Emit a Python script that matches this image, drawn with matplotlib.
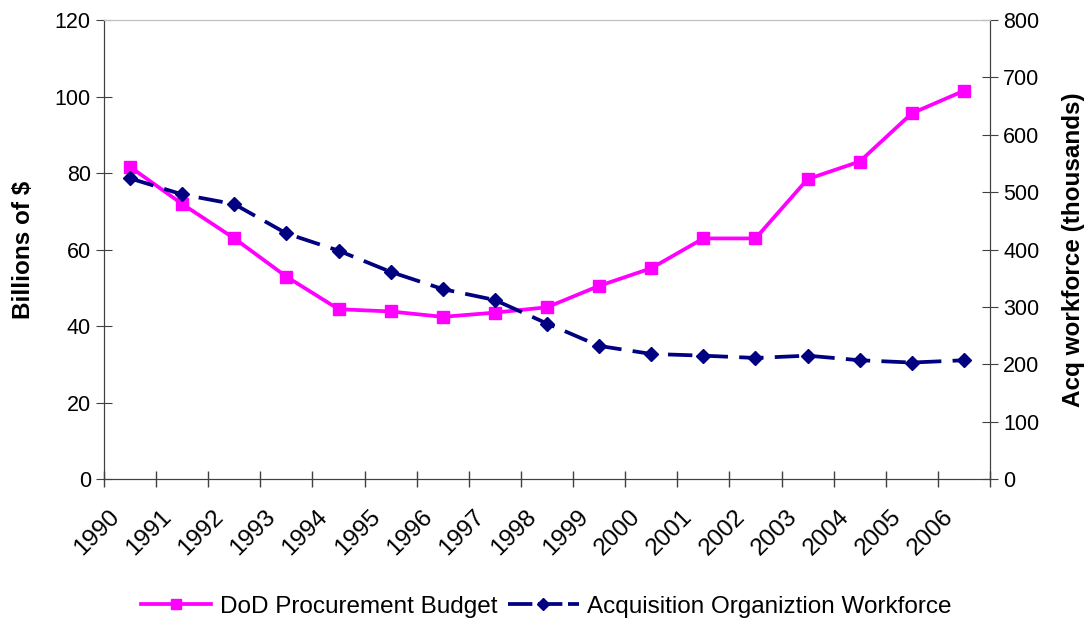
import numpy as np
import matplotlib
matplotlib.use("Agg")
import matplotlib.pyplot as plt
from matplotlib.lines import Line2D
from matplotlib.transforms import ScaledTranslation

plt.rcParams['font.family'] = ['Liberation Sans', 'DejaVu Sans']

# data
years = [str(y) for y in range(1990, 2007)]
budget = [81.6, 71.9, 62.9, 52.9, 44.4, 43.8, 42.4, 43.5, 44.9, 50.5,
          55.1, 62.9, 62.9, 78.4, 83.0, 95.6, 101.5]
workforce = [524, 496, 479, 428, 398, 361, 331, 312, 271, 232,
             218, 215, 211, 215, 207, 203, 207]

pink = '#FF00FF'
navy = '#000080'
axcol = '#404040'

fig = plt.figure(figsize=(10.86, 6.23), dpi=100)
ax = fig.add_axes([0.0958, 0.2311, 0.8158, 0.7368])
ax2 = ax.twinx()

x = np.arange(len(years)) + 0.5
ax.plot(x, budget, color=pink, lw=2.7, marker='s', ms=8, zorder=3)
ax2.plot(x, workforce, color=navy, lw=2.7, marker='D', ms=7.5,
         dashes=(6.5, 3), zorder=3)

ax.set_xlim(0, len(years))
ax.set_ylim(0, 120)
ax2.set_ylim(0, 800)
ax.set_yticks(np.arange(0, 121, 20))
ax2.set_yticks(np.arange(0, 801, 100))

# category boundaries get the tick marks, centres get the labels
ax.set_xticks(np.arange(0, len(years) + 1))
ax.set_xticklabels([])
ax.set_xticks(x, minor=True)
ax.set_xticklabels(years, minor=True, rotation=45, ha='right', va='center',
                   rotation_mode='anchor', fontsize=17.5)
ax.tick_params(axis='x', which='minor', length=0, pad=25)
for lab in ax.get_xticklabels(minor=True):
    lab.set_transform(lab.get_transform() +
                      ScaledTranslation(-0.14, 0, fig.dpi_scale_trans))
ax.tick_params(axis='x', which='major', direction='inout', length=11,
               color=axcol, width=1)
ax.tick_params(axis='y', direction='inout', length=11, color=axcol,
               labelsize=15.5, pad=4)
ax2.tick_params(axis='y', direction='inout', length=11, color=axcol,
                labelsize=15.5, pad=4)

for a in (ax, ax2):
    a.spines['top'].set_color('#C0C0C0')
    a.spines['left'].set_color(axcol)
    a.spines['bottom'].set_color(axcol)
    a.spines['right'].set_color(axcol)

ax.set_ylabel('Billions of $', fontsize=17.5, fontweight='bold', labelpad=14)
ax2.set_ylabel('Acq workforce (thousands)', fontsize=17.5, fontweight='bold',
               labelpad=16)

handles = [
    Line2D([], [], color=pink, lw=2.7, marker='s', ms=7),
    Line2D([], [], color=navy, lw=2.7, marker='D', ms=6.5, dashes=(6.5, 1.5)),
]
fig.legend(handles, ['DoD Procurement Budget', 'Acquisition Organiztion Workforce'],
           loc='center', bbox_to_anchor=(0.503, 0.026), ncol=2,
           frameon=False, fontsize=17.5, handlelength=2.9,
           columnspacing=0.45, handletextpad=0.35)

fig.savefig('out.png', dpi=100)
